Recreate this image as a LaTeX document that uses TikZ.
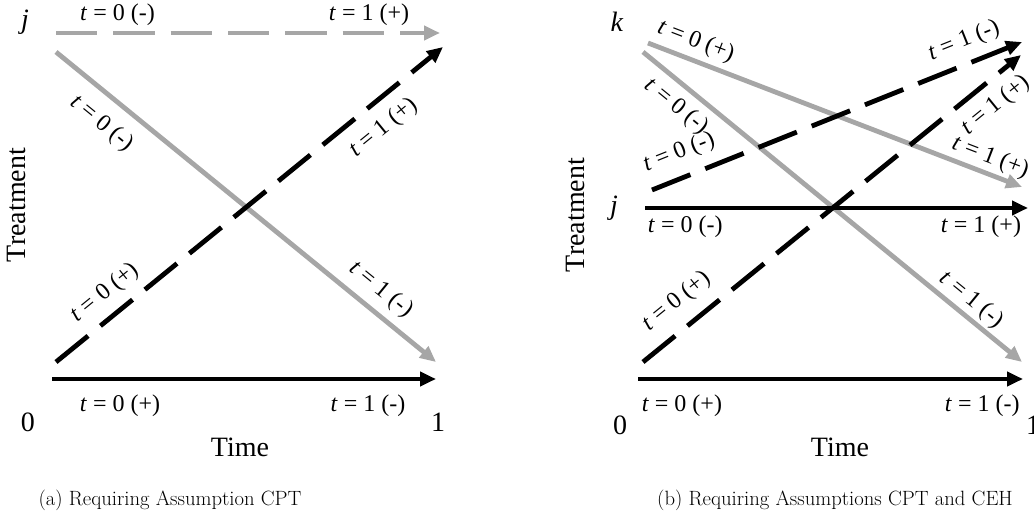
\documentclass[tikz,border=0pt]{standalone}
\usepackage{fontspec}
\newfontfamily\timesfont{Liberation Serif}
\definecolor{linegray}{HTML}{A6A6A6}
\usetikzlibrary{arrows.meta}
\tikzset{
  solidarr/.style={
    draw=#1, line width=3.6pt,
    -{Triangle[length=12pt,width=10.5pt]}
  },
  solidarr/.default=black,
  dasharr/.style={solidarr=#1, dash pattern=on 31pt off 12pt},
  dasharr/.default=black,
  tlbl/.style={font=\timesfont\fontsize{18}{20}\selectfont, inner sep=2pt},
  axlbl/.style={font=\timesfont\fontsize{21}{24}\selectfont, inner sep=0pt},
  caplbl/.style={font=\fontsize{15.5}{18}\selectfont, inner sep=0pt},
}

\begin{document}
\begin{tikzpicture}[x={(0.75pt,0)}, y={(0,-0.75pt)}]
  \useasboundingbox (0,0) rectangle (1034,527);

  % (a) one treatment switch
  \coordinate (aTop0) at (56,33);   \coordinate (aTop1) at (440,33);
  \coordinate (aGr0)  at (56,52);   \coordinate (aGr1)  at (436,362);
  \coordinate (aDa0)  at (56,362);  \coordinate (aDa1)  at (443,47);
  \coordinate (aBot0) at (52,379);  \coordinate (aBot1) at (436,379);

  \draw[dasharr=linegray] (aTop0) -- (aTop1)
    node[tlbl, pos=0.16, above=2pt] (aTopL0) {\textit{t} = 0 (-)}
    node[tlbl, pos=0.815, above=2pt] (aTopL1) {\textit{t} = 1 (+)};
  \draw[solidarr=linegray] (aGr0) -- (aGr1)
    node[tlbl, sloped, pos=0.165, below=8pt] (aGrL0) {\textit{t} = 0 (-)}
    node[tlbl, sloped, pos=0.82, above=4pt] (aGrL1) {\textit{t} = 1 (-)};
  \draw[dasharr] (aDa0) -- (aDa1)
    node[tlbl, sloped, pos=0.164, above=5pt] (aDaL0) {\textit{t} = 0 (+)}
    node[tlbl, sloped, pos=0.805, below=7pt] (aDaL1) {\textit{t} = 1 (+)};
  \draw[solidarr] (aBot0) -- (aBot1)
    node[tlbl, pos=0.177, below=8pt] (aBotL0) {\textit{t} = 0 (+)}
    node[tlbl, pos=0.823, below=8pt] (aBotL1) {\textit{t} = 1 (-)};

  \node[axlbl] (aJ) at (25,22) {\textit{j}};
  \node[axlbl] (aZero) at (28,422) {0};
  \node[axlbl] (aOne) at (438,422) {1};
  \node[axlbl] (aTime) at (240,447) {Time};
  \node[axlbl, rotate=90] (aTreat) at (16,205) {Treatment};
  \node[caplbl] (aCap) at (170,500) {(a) Requiring Assumption CPT};

  % (b) two treatment switches
  \coordinate (bGrA0) at (648,43);  \coordinate (bGrA1) at (1022,187);
  \coordinate (bGrB0) at (643,52);  \coordinate (bGrB1) at (1022,362);
  \coordinate (bJ0)   at (645,208); \coordinate (bJ1)   at (1028,208);
  \coordinate (bDaA0) at (652,190); \coordinate (bDaA1) at (1022,42);
  \coordinate (bDaB0) at (643,362); \coordinate (bDaB1) at (1021,55);
  \coordinate (bBot0) at (638,379); \coordinate (bBot1) at (1023,379);

  \draw[solidarr=linegray] (bGrA0) -- (bGrA1)
    node[tlbl, sloped, pos=0.11, above=2pt] (bGrAL0) {\textit{t} = 0 (+)}
    node[tlbl, sloped, pos=0.90, above=0pt] (bGrAL1) {\textit{t} = 1 (+)};
  \draw[solidarr=linegray] (bGrB0) -- (bGrB1)
    node[tlbl, sloped, pos=0.124, below=4pt] (bGrBL0) {\textit{t} = 0 (-)}
    node[tlbl, sloped, pos=0.84, above=0pt] (bGrBL1) {\textit{t} = 1 (-)};
  \draw[solidarr] (bJ0) -- (bJ1)
    node[tlbl, pos=0.105, below=2pt] (bJL0) {\textit{t} = 0 (-)}
    node[tlbl, pos=0.877, below=2pt] (bJL1) {\textit{t} = 1 (+)};
  \draw[dasharr] (bDaA0) -- (bDaA1)
    node[tlbl, sloped, pos=0.098, above=6.5pt] (bDaAL0) {\textit{t} = 0 (-)}
    node[tlbl, sloped, pos=0.866, above=5pt] (bDaAL1) {\textit{t} = 1 (-)};
  \draw[dasharr] (bDaB0) -- (bDaB1)
    node[tlbl, sloped, pos=0.132, above=7.5pt] (bDaBL0) {\textit{t} = 0 (+)}
    node[tlbl, sloped, pos=0.895, below=5.5pt] (bDaBL1) {\textit{t} = 1 (+)};
  \draw[solidarr] (bBot0) -- (bBot1)
    node[tlbl, pos=0.114, below=8pt] (bBotL0) {\textit{t} = 0 (+)}
    node[tlbl, pos=0.894, below=8pt] (bBotL1) {\textit{t} = 1 (-)};

  \node[axlbl] (bK) at (617,22) {\textit{k}};
  \node[axlbl] (bJ) at (614,208) {\textit{j}};
  \node[axlbl] (bZero) at (620,425) {0};
  \node[axlbl] (bOne) at (1033,425) {1};
  \node[axlbl] (bTime) at (840,447) {Time};
  \node[axlbl, rotate=90] (bTreat) at (575,215) {Treatment};
  \node[caplbl] (bCap) at (835,500) {(b) Requiring Assumptions CPT and CEH};
\end{tikzpicture}
\end{document}
